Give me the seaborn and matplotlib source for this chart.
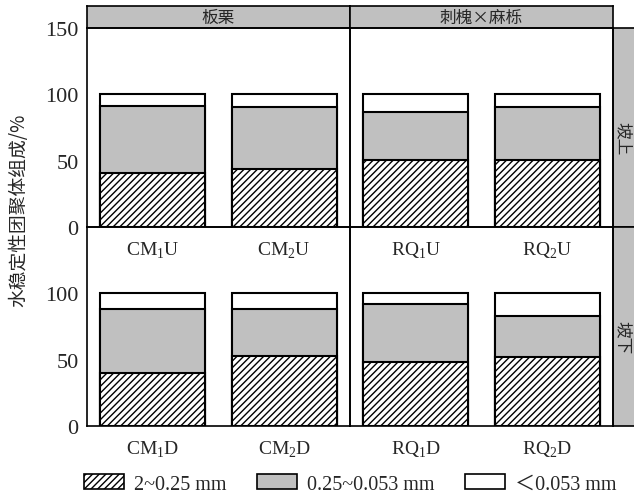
import matplotlib
matplotlib.use("Agg")
import matplotlib.pyplot as plt
from matplotlib.patches import Patch
import pandas as pd
import seaborn as sns

# Stand-level facets and sample sites
species = ["板栗", "刺槐×麻栎"]
slopes = ["坡上", "坡下"]
samples = [
    ["CM$_\\mathregular{1}$U", "CM$_\\mathregular{2}$U", "RQ$_\\mathregular{1}$U", "RQ$_\\mathregular{2}$U"],
    ["CM$_\\mathregular{1}$D", "CM$_\\mathregular{2}$D", "RQ$_\\mathregular{1}$D", "RQ$_\\mathregular{2}$D"],
]

# Water-stable aggregate fractions (%), order: CM1, CM2, RQ1, RQ2
frac_2_025 = [[41.0, 43.6, 50.7, 50.7], [40.0, 53.0, 48.6, 52.1]]
frac_025_0053 = [[50.5, 47.1, 35.7, 39.9], [48.0, 35.0, 43.1, 31.1]]
frac_lt_0053 = [[8.5, 9.3, 13.6, 9.4], [12.0, 12.0, 8.3, 16.8]]

legend_labels = ["2~0.25 mm", "0.25~0.053 mm", "＜0.053 mm"]
y_ticks_top = [0, 50, 100, 150]
y_ticks_bottom = [0, 50, 100]

sns.set_style("white")
plt.rcParams["font.family"] = ["Liberation Serif", "Noto Sans CJK SC"]
plt.rcParams["mathtext.fontset"] = "custom"
plt.rcParams["mathtext.rm"] = "Liberation Serif"
plt.rcParams["hatch.linewidth"] = 1.0
cjk = ["Noto Sans CJK SC", "DejaVu Sans"]

GRAY = "#c0c0c0"
HATCH = "/////"
W, H = 634, 502
fig = plt.figure(figsize=(W / 100, H / 100), dpi=100)


def rect(x0, y0, x1, y1):
    return [x0 / W, 1 - y1 / H, (x1 - x0) / W, (y1 - y0) / H]


xl, xm, xr = 87, 350, 613
yt, ymid, yb = 29, 228, 427

rows = []
for r in range(2):
    for c in range(2):
        for k in range(2):
            i = 2 * c + k
            a, b, s = frac_2_025[r][i], frac_025_0053[r][i], frac_lt_0053[r][i]
            rows.append(dict(row=r, col=c, sample=samples[r][i],
                             fine=a, mid=a + b, total=a + b + s))
df = pd.DataFrame(rows)

for r in range(2):
    for c in range(2):
        x0 = xl if c == 0 else xm
        x1 = xm if c == 0 else xr
        y0 = yt if r == 0 else ymid
        y1 = ymid if r == 0 else yb
        ax = fig.add_axes(rect(x0, y0, x1, y1), zorder=3 - r)
        ax.set_facecolor("none")
        sub = df[(df.row == r) & (df.col == c)]
        common = dict(data=sub, x="sample", ax=ax, width=0.8, saturation=1,
                      edgecolor="black", linewidth=1.5, errorbar=None)
        sns.barplot(y="total", color="white", **common)
        sns.barplot(y="mid", color=GRAY, **common)
        n_before = len(ax.patches)
        sns.barplot(y="fine", color="white", **common)
        for p in ax.patches[n_before:]:
            p.set_hatch(HATCH)
        ax.set_ylim(0, 150)
        ax.set_xlim(-0.5, 1.5)
        ax.set_yticks(y_ticks_top if r == 0 else y_ticks_bottom)
        ax.set_xlabel("")
        ax.set_ylabel("")
        ax.tick_params(axis="both", length=0)
        ax.tick_params(axis="x", pad=9, labelsize=14)
        ax.tick_params(axis="y", pad=6, labelsize=16)
        if c == 1:
            ax.set_yticklabels([])
        for sp in ax.spines.values():
            sp.set_visible(True)
            sp.set_color("black")
            sp.set_linewidth(1.2)

# Column strips
for c, name in enumerate(species):
    x0 = xl if c == 0 else xm
    x1 = xm if c == 0 else xr
    sax = fig.add_axes(rect(x0, 7, x1, yt))
    sax.set_facecolor(GRAY)
    sax.set_xticks([])
    sax.set_yticks([])
    for sp in sax.spines.values():
        sp.set_color("black")
        sp.set_linewidth(1.2)
    sax.text(0.5, 0.5, name, ha="center", va="center", fontsize=12,
             family=cjk, transform=sax.transAxes)

# Row strips
for r, name in enumerate(slopes):
    y0 = yt if r == 0 else ymid
    y1 = ymid if r == 0 else yb
    sax = fig.add_axes(rect(xr, y0, 637, y1))
    sax.set_facecolor(GRAY)
    sax.set_xticks([])
    sax.set_yticks([])
    for sp in sax.spines.values():
        sp.set_color("black")
        sp.set_linewidth(1.2)
    sax.text(0.42, 0.45, name, ha="center", va="center", fontsize=12,
             rotation=-90, family=cjk, transform=sax.transAxes)

fig.text(19 / W, 1 - 210 / H, "水稳定性团聚体组成/%", rotation=90,
         ha="center", va="center", fontsize=13.5, family=cjk)

handles = [
    Patch(facecolor="white", edgecolor="black", hatch=HATCH, linewidth=1.2),
    Patch(facecolor=GRAY, edgecolor="black", linewidth=1.2),
    Patch(facecolor="white", edgecolor="black", linewidth=1.2),
]
fig.legend(handles, legend_labels, loc="center", ncol=3,
           bbox_to_anchor=(350 / W, 1 - 485 / H), frameon=False,
           fontsize=14.5, handlelength=2.0, handleheight=0.7,
           handletextpad=0.5, columnspacing=1.5, borderaxespad=0)

fig.savefig("out.png", dpi=100)
